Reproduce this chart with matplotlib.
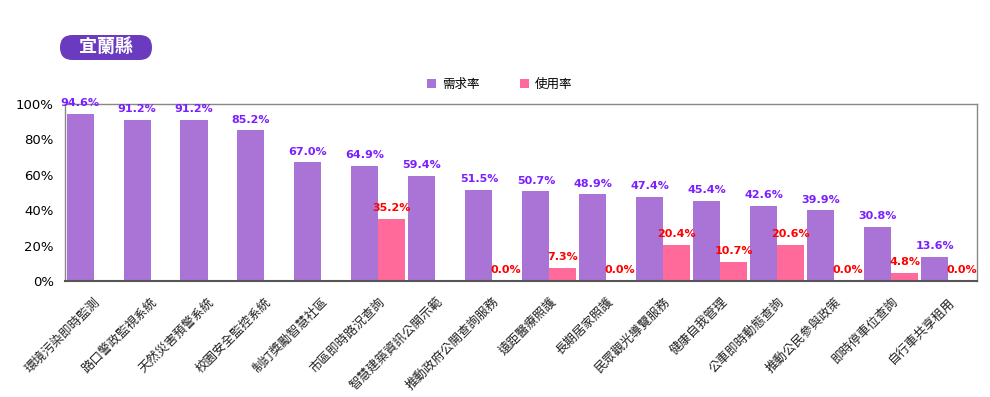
import numpy as np
import matplotlib.pyplot as plt
from matplotlib.patches import FancyBboxPatch
from matplotlib.transforms import IdentityTransform

plt.rcParams['font.family'] = ['Noto Sans CJK TC', 'DejaVu Sans']

### Data
items = ['環境污染即時監測', '路口警政監視系統', '天然災害預警系統', '校園安全監控系統',
         '制訂獎勵智慧社區', '市區即時路況查詢', '智慧建築資訊公開示範', '推動政府公開查詢服務',
         '遠距醫療照護', '長期居家照護', '民眾觀光導覽服務', '健康自我管理',
         '公車即時動態查詢', '推動公民參與政策', '即時停車位查詢', '自行車共享租用']
demand = [94.6, 91.2, 91.2, 85.2, 67.0, 64.9, 59.4, 51.5,
          50.7, 48.9, 47.4, 45.4, 42.6, 39.9, 30.8, 13.6]
usage = [None, None, None, None, None, 35.2, None, 0.0,
         7.3, 0.0, 20.4, 10.7, 20.6, 0.0, 4.8, 0.0]
series_names = ['需求率', '使用率']
title = '宜蘭縣'

colors = {'demand': '#A974D6', 'usage': '#FF6A9A',
          'demand_txt': '#7B1FFF', 'usage_txt': '#FF0000'}

### Plot
W, H = 990, 397
fig = plt.figure(figsize=(W / 100, H / 100), dpi=100)
ax = fig.add_axes([0.0657, 0.292, 0.921, 0.446])

x = np.arange(len(items))
w = 0.474
off = 0.237

ax.bar(x - off, demand, width=w, color=colors['demand'], label=series_names[0])
u_vals = [v if v is not None else 0 for v in usage]
ax.bar(x + off, u_vals, width=w, color=colors['usage'], label=series_names[1])

for i, v in enumerate(demand):
    ax.text(x[i] - off, v + 3.2, f'{v:.1f}%', ha='center', va='bottom',
            color=colors['demand_txt'], fontsize=8, fontweight='bold',
            family='DejaVu Sans', clip_on=False)
for i, v in enumerate(usage):
    if v is None:
        continue
    ax.text(x[i] + off, v + 3.2, f'{v:.1f}%', ha='center', va='bottom',
            color=colors['usage_txt'], fontsize=8, fontweight='bold',
            family='DejaVu Sans', clip_on=False)

ax.set_xlim(-0.5, len(items) - 0.5)
ax.set_ylim(0, 100)
ax.set_yticks([0, 20, 40, 60, 80, 100])
ax.set_yticklabels([f'{t}%' for t in [0, 20, 40, 60, 80, 100]], fontsize=9.5,
                   family='DejaVu Sans')
ax.tick_params(axis='y', length=0, pad=8)
ax.set_xticks(x)
ax.set_xticklabels(items, rotation=45, ha='right', rotation_mode='anchor',
                   fontsize=9, color='#222222')
ax.tick_params(axis='x', length=0, pad=10)

for s in ['top', 'right', 'left']:
    ax.spines[s].set_color('#888888')
    ax.spines[s].set_linewidth(1)
ax.spines['bottom'].set_color('#555555')
ax.spines['bottom'].set_linewidth(1.5)

fig.legend(loc='center', bbox_to_anchor=(0.505, 0.788), ncol=2, frameon=False,
           fontsize=9, handlelength=0.7, handleheight=0.7, columnspacing=3.2,
           handletextpad=0.5)

# title badge (pixel coordinates)
badge = FancyBboxPatch((60, H - 60), 92, 25,
                       boxstyle='round,pad=0,rounding_size=12.5',
                       transform=IdentityTransform(), facecolor='#6A3BBF',
                       edgecolor='none')
fig.patches.append(badge)
fig.text(106 / W, 1 - 47.5 / H, title, ha='center', va='center', color='white',
         fontsize=13, fontweight='bold')

fig.savefig('out.png')
